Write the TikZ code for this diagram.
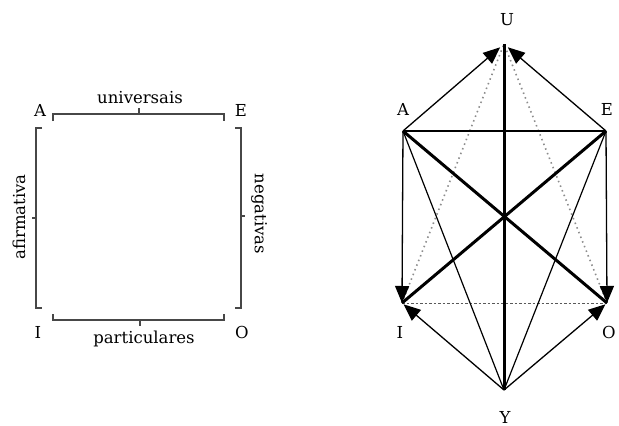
\documentclass[tikz,border=0pt]{standalone}
\usepackage{fontspec}
\setmainfont{DejaVu Serif}
\usetikzlibrary{arrows.meta}
\begin{document}
\begin{tikzpicture}[x=1pt,y=-1pt,
  lbl/.style={font=\fontsize{16.5}{16.5}\selectfont, inner sep=0pt},
  brk/.style={line width=1.6pt, draw=black!72},
  thinl/.style={line width=1.2pt},
  thickl/.style={line width=3pt},
  arr/.style={-{Triangle[length=17pt,width=14pt]}, line width=1.3pt},
  dotl/.style={line width=1.6pt, dash pattern=on 1.5pt off 3.5pt, draw=black!45},
  dashl/.style={line width=1pt, dash pattern=on 2.5pt off 2pt, draw=black!65}]
\useasboundingbox (0,0) rectangle (619,426);
% ---------- left square ----------
\node[lbl] (lA) at (40,110) {A};
\node[lbl] (lE) at (241,110) {E};
\node[lbl] (lI) at (38,332) {I};
\node[lbl] (lO) at (242,332) {O};
\node[lbl] (univ) at (140,98) {universais};
\node[lbl] (part) at (144,339) {particulares};
\node[lbl, rotate=90] (afir) at (19,217) {afirmativa};
\node[lbl, rotate=-90] (neg) at (259,214) {negativas};
% top bracket
\draw[brk] (53,121) -- (53,114) -- (224,114) -- (224,121);
\draw[brk] (139,114) -- (139,108);
% bottom bracket
\draw[brk] (53,314) -- (53,320) -- (224,320) -- (224,314);
\draw[brk] (140,320) -- (140,326);
% left bracket
\draw[brk] (42,128) -- (36,128) -- (36,308) -- (42,308);
\draw[brk] (36,218) -- (32,218);
% right bracket
\draw[brk] (235,128) -- (241,128) -- (241,308) -- (235,308);
\draw[brk] (241,216) -- (245,216);
% ---------- right hexagon ----------
\coordinate (U) at (504,44);
\coordinate (A) at (403,131);
\coordinate (E) at (606,131);
\coordinate (I) at (402,303);
\coordinate (O) at (607,303);
\coordinate (Y) at (504,390);
\node[lbl] (tU) at (507,20) {U};
\node[lbl] (tA) at (403,109) {A};
\node[lbl] (tE) at (607,109) {E};
\node[lbl] (tI) at (400,332) {I};
\node[lbl] (tO) at (609,332) {O};
\node[lbl] (tY) at (505,417) {Y};
% dotted
\draw[dotl] (I) -- (U);
\draw[dotl] (O) -- (U);
\draw[dashl] (I) -- (O);
% thin lines
\draw[thinl] (A) -- (Y);
\draw[thinl] (E) -- (Y);
\draw[line width=1.5pt] (A) -- (E);
% thick
\draw[thickl] (U) -- (Y);
\draw[thickl] (A) -- (O);
\draw[thickl] (E) -- (I);
% arrows
\draw[arr, shorten >=5pt] (A) -- (U);
\draw[arr, shorten >=5pt] (E) -- (U);
\draw[arr] (A) -- (I);
\draw[arr] (E) -- (O);
\draw[arr, shorten >=2pt] (Y) -- (I);
\draw[arr, shorten >=2pt] (Y) -- (O);
\end{tikzpicture}
\end{document}
